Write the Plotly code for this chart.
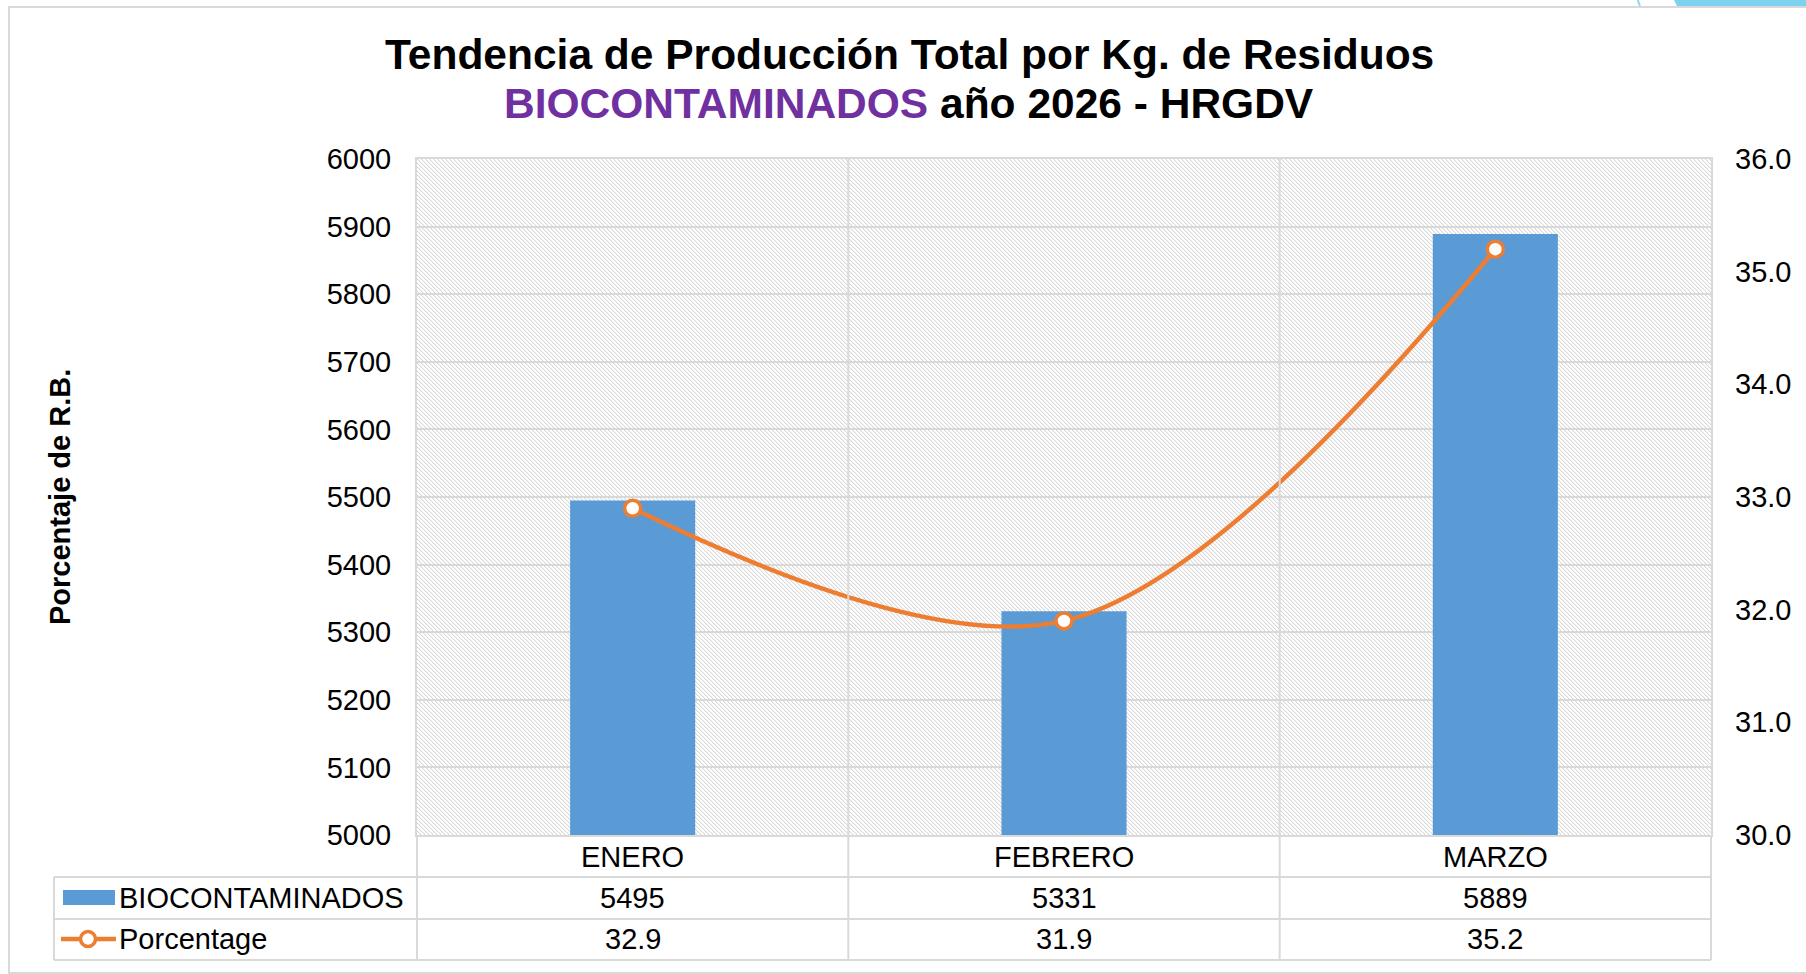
import base64
import plotly.graph_objects as go

# ---- data ----
meses = ["ENERO", "FEBRERO", "MARZO"]
biocontaminados_kg = [5495, 5331, 5889]
porcentaje = [32.9, 31.9, 35.2]
serie_barras = "BIOCONTAMINADOS"
serie_linea = "Porcentage"

# ---- styling ----
FONT = "Arial, Liberation Sans, sans-serif"
AZUL = "#5B9BD5"
NARANJA = "#ED7D31"
GRIS = "#D9D9D9"
MORADO = "#7030A0"

FIG_W, FIG_H = 1806, 974
L, R, T, B = 417, 1711, 159, 835          # plot area in pixels
PW, PH = R - L, B - T


def px(x):
    return (x - L) / PW


def py(y):
    return (B - y) / PH


xs = list(range(len(meses)))

fig = go.Figure()

fig.add_trace(go.Bar(
    x=xs, y=biocontaminados_kg, name=serie_barras,
    marker=dict(color=AZUL, line=dict(width=0)),
    width=0.29, yaxis="y", showlegend=False,
))

fig.add_trace(go.Scatter(
    x=xs, y=porcentaje, name=serie_linea, yaxis="y2",
    mode="lines+markers",
    line=dict(color=NARANJA, width=4.5, shape="spline", smoothing=1.0),
    marker=dict(symbol="circle", size=16, color="white",
                line=dict(color=NARANJA, width=3.5)),
    showlegend=False,
))

# hatched plot background
pattern_svg = (
    f"<svg xmlns='http://www.w3.org/2000/svg' width='{PW}' height='{PH}' shape-rendering='crispEdges'>"
    "<defs><pattern id='p' width='4' height='4' patternUnits='userSpaceOnUse'>"
    "<rect width='4' height='4' fill='#ffffff'/>"
    "<rect x='0' y='0' width='1' height='1' fill='#d9d9d9'/>"
    "<rect x='1' y='1' width='1' height='1' fill='#d9d9d9'/>"
    "<rect x='2' y='2' width='1' height='1' fill='#d9d9d9'/>"
    "<rect x='3' y='3' width='1' height='1' fill='#d9d9d9'/>"
    "<rect x='1' y='0' width='1' height='1' fill='#f0f0f0'/>"
    "<rect x='2' y='1' width='1' height='1' fill='#f0f0f0'/>"
    "<rect x='3' y='2' width='1' height='1' fill='#f0f0f0'/>"
    "<rect x='0' y='3' width='1' height='1' fill='#f0f0f0'/>"
    "</pattern></defs><rect width='100%' height='100%' fill='url(#p)'/></svg>"
)
pattern_uri = "data:image/svg+xml;base64," + base64.b64encode(pattern_svg.encode()).decode()

shapes = []


def hline(y, x0, x1):
    shapes.append(dict(type="line", xref="paper", yref="paper",
                       x0=px(x0), x1=px(x1), y0=py(y), y1=py(y),
                       line=dict(color=GRIS, width=2), layer="above"))


def vline(x, y0, y1):
    shapes.append(dict(type="line", xref="paper", yref="paper",
                       x0=px(x), x1=px(x), y0=py(y0), y1=py(y1),
                       line=dict(color=GRIS, width=2), layer="above"))


# outer chart frame
shapes.append(dict(type="rect", xref="paper", yref="paper",
                   x0=px(9), x1=px(1830), y0=py(7), y1=py(973),
                   line=dict(color=GRIS, width=2), fillcolor="rgba(0,0,0,0)"))
# decoration at the top-right edge
shapes.append(dict(type="path", xref="paper", yref="paper",
                   path=f"M {px(1673)},{py(-2)} L {px(1810)},{py(-2)} L {px(1810)},{py(6)} L {px(1677)},{py(6)} Z",
                   fillcolor="#7DD3EF", line=dict(width=0)))
shapes.append(dict(type="line", xref="paper", yref="paper",
                   x0=px(1637), x1=px(1640), y0=py(-2), y1=py(6),
                   line=dict(color="#8FD8F0", width=2)))

# data table grid
cell_edges = [L, L + PW / 3, L + 2 * PW / 3, R]
for yv in (877, 919, 960):
    hline(yv, 54, R)
for xv in cell_edges:
    vline(xv, B, 960)
vline(54, 877, 960)
for xv in cell_edges[1:3]:
    vline(xv, T, B)

# legend keys inside the table
shapes.append(dict(type="rect", xref="paper", yref="paper",
                   x0=px(63), x1=px(115), y0=py(890), y1=py(905),
                   fillcolor=AZUL, line=dict(width=0)))
shapes.append(dict(type="line", xref="paper", yref="paper",
                   x0=px(61), x1=px(116), y0=py(939), y1=py(939),
                   line=dict(color=NARANJA, width=4.5)))
shapes.append(dict(type="circle", xref="paper", yref="paper",
                   x0=px(80.5), x1=px(95.5), y0=py(931.5), y1=py(946.5),
                   fillcolor="white", line=dict(color=NARANJA, width=3.5)))

annotations = []
# title
annotations.append(dict(
    text="<b>Tendencia de Producción Total por Kg. de Residuos</b>",
    xref="paper", yref="paper", x=px(909), y=py(54), xanchor="center", yanchor="middle",
    showarrow=False, font=dict(family=FONT, size=42.5, color="black")))
annotations.append(dict(
    text=f"<b><span style='color:{MORADO}'>BIOCONTAMINADOS</span> año 2026 - HRGDV</b>",
    xref="paper", yref="paper", x=px(909), y=py(103), xanchor="center", yanchor="middle",
    showarrow=False, font=dict(family=FONT, size=42.5, color="black")))
# axis title
annotations.append(dict(
    text="<b>Porcentaje de R.B.</b>", textangle=-90,
    xref="paper", yref="paper", x=px(60), y=py(497), xanchor="center", yanchor="middle",
    showarrow=False, font=dict(family=FONT, size=29, color="black")))

# table contents
for i, mes in enumerate(meses):
    annotations.append(dict(text=mes, xref="x", yref="paper", x=i, y=py(857),
                            xanchor="center", yanchor="middle", showarrow=False,
                            font=dict(family=FONT, size=29, color="black")))
    annotations.append(dict(text=f"{biocontaminados_kg[i]}", xref="x", yref="paper", x=i, y=py(898),
                            xanchor="center", yanchor="middle", showarrow=False,
                            font=dict(family=FONT, size=29, color="black")))
    annotations.append(dict(text=f"{porcentaje[i]:.1f}", xref="x", yref="paper", x=i, y=py(939),
                            xanchor="center", yanchor="middle", showarrow=False,
                            font=dict(family=FONT, size=29, color="black")))
annotations.append(dict(text=serie_barras, xref="paper", yref="paper", x=px(117), y=py(898),
                        xanchor="left", yanchor="middle", showarrow=False,
                        font=dict(family=FONT, size=29, color="black")))
annotations.append(dict(text=serie_linea, xref="paper", yref="paper", x=px(117), y=py(939),
                        xanchor="left", yanchor="middle", showarrow=False,
                        font=dict(family=FONT, size=29, color="black")))

fig.update_layout(
    width=FIG_W, height=FIG_H,
    margin=dict(l=L, r=FIG_W - R, t=T, b=FIG_H - B, pad=0),
    paper_bgcolor="white", plot_bgcolor="white",
    font=dict(family=FONT, size=29, color="black"),
    barmode="overlay",
    xaxis=dict(range=[-0.5, 2.5], showticklabels=False, ticks="", showgrid=False,
               zeroline=False, showline=True, mirror=True, linecolor=GRIS, linewidth=2,
               fixedrange=True),
    yaxis=dict(range=[5000, 6000], dtick=100, tick0=5000, showgrid=True, gridcolor=GRIS,
               gridwidth=2, zeroline=False, showline=True, mirror=True, linecolor=GRIS,
               linewidth=2, ticks="", ticklabelstandoff=18,
               tickfont=dict(family=FONT, size=29, color="black")),
    yaxis2=dict(range=[30, 36], dtick=1, tick0=30, tickformat=".1f", overlaying="y",
                side="right", showgrid=False, zeroline=False, showline=False, ticks="",
                ticklabelstandoff=23, tickfont=dict(family=FONT, size=29, color="black")),
    images=[dict(source=pattern_uri, xref="paper", yref="paper", x=0, y=1,
                 sizex=1, sizey=1, sizing="stretch", xanchor="left", yanchor="top",
                 layer="below")],
    shapes=shapes,
    annotations=annotations,
    showlegend=False,
)

fig.write_html("out.html")
